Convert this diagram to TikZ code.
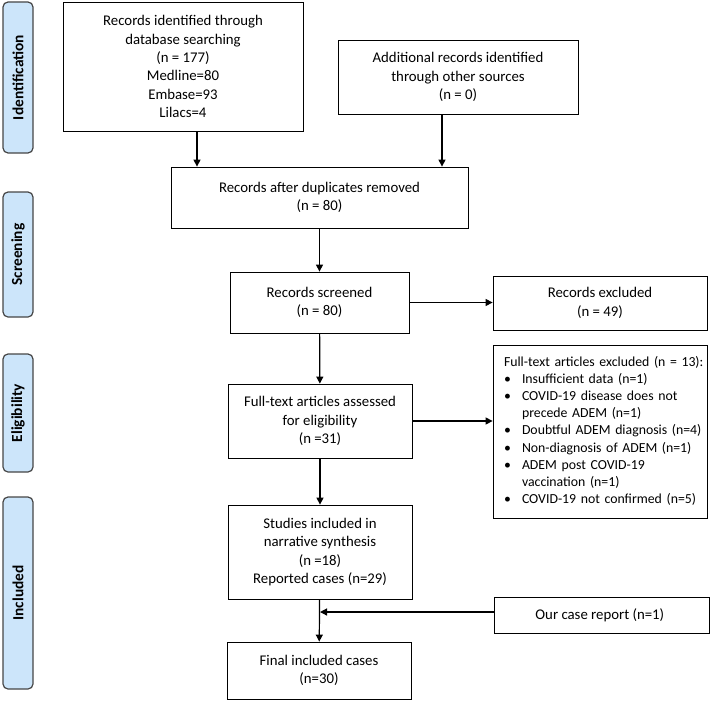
\documentclass[tikz,border=0pt]{standalone}
\usepackage{fontspec}
\setmainfont{Carlito}
\usepackage{tikz}
\usetikzlibrary{calc, positioning, arrows.meta}
\definecolor{sidefill}{RGB}{204,229,250}
\definecolor{sidedraw}{RGB}{70,70,70}

\begin{document}
\begin{tikzpicture}[x=1pt, y=-1pt,
        box/.style={draw, line width=0.8pt, align=center, inner sep=0pt,
            font=\fontsize{14.8}{18.3}\selectfont},
        sidebar/.style={draw=sidedraw, fill=sidefill, line width=1.2pt,
            rounded corners=5pt, rotate=90, minimum height=30pt, inner sep=0pt,
            font=\bfseries\fontsize{15.4}{18}\selectfont},
        flow/.style={line width=1.2pt, -{Triangle[length=7pt, width=7pt]}}]
    \useasboundingbox (0,0) rectangle (711,701);

    % phases on the left
    \node[sidebar, minimum width=151pt] (sideid) at (18,77.5) {Identification};
    \node[sidebar, minimum width=125pt] (sidescr) at (18,254.5) {Screening};
    \node[sidebar, minimum width=118pt] (sideel) at (18,413) {Eligibility};
    \node[sidebar, minimum width=192pt] (sideinc) at (18,593) {Included};

    % main column
    \node[box, minimum width=240pt, minimum height=129pt] (ident) at (183,66.5) {
        Records identified through\\
        database searching\\
        (n = 177)\\
        Medline=80\\
        Embase=93\\
        Lilacs=4
    };
    \node[box, minimum width=240pt, minimum height=74pt] (other) at (458,77) {
        Additional records identified\\
        through other sources\\
        (n = 0)
    };
    \node[box, minimum width=297pt, minimum height=61pt] (dup) at (319.5,197.5) {
        Records after duplicates removed\\
        (n = 80)
    };
    \node[box, minimum width=179pt, minimum height=61pt] (screen) at (319.5,302.5) {
        Records screened\\
        (n = 80)
    };
    \node[box, minimum width=184pt, minimum height=74pt] (full) at (320,421) {
        Full-text articles assessed\\
        for eligibility\\
        (n =31)
    };
    \node[box, minimum width=184pt, minimum height=94pt] (incl) at (320,552) {
        Studies included in\\
        narrative synthesis\\
        (n =18)\\
        Reported cases (n=29)
    };
    \node[box, minimum width=184pt, minimum height=57pt] (final) at (319,670.5) {
        Final included cases\\
        (n=30)
    };

    % right column
    \node[box, minimum width=214pt, minimum height=54pt] (excl) at (600,303) {
        Records excluded\\
        (n = 49)
    };
    \node[box, minimum width=214pt, minimum height=173pt, text width=192pt, align=left,
        font=\fontsize{13.8}{17.2}\selectfont] (ftex) at (600,431.5) {%
        \begin{tabular}{@{}p{18pt}@{}l@{}}
            \multicolumn{2}{@{}l@{}}{Full-text articles excluded (n = 13):}\\
            \textbullet & Insufficient data (n=1)\\
            \textbullet & COVID-19 disease does not\\
             & precede ADEM (n=1)\\
            \textbullet & Doubtful ADEM diagnosis (n=4)\\
            \textbullet & Non-diagnosis of ADEM (n=1)\\
            \textbullet & ADEM post COVID-19\\
             & vaccination (n=1)\\
            \textbullet & COVID-19 not confirmed (n=5)
        \end{tabular}};
    \node[box, minimum width=215pt, minimum height=36pt] (case) at (601.5,615) {
        Our case report (n=1)
    };

    % arrows
    \coordinate (idfoot) at ([xshift=14pt]ident.south);
    \coordinate (otfoot) at ([xshift=-16pt]other.south);
    \coordinate (casein) at ([yshift=3pt]case.west);

    \draw[flow] (idfoot) -- (idfoot |- dup.north);
    \draw[flow] (otfoot) -- (otfoot |- dup.north);
    \draw[flow] (dup) -- (screen);
    \draw[flow] (screen) -- (full);
    \draw[flow] (full) -- (incl);
    \draw[flow] (incl) -- (final);
    \draw[flow] (screen.east) -- (excl.west |- screen.east);
    \draw[flow] (full.east) -- (ftex.west |- full.east);
    \draw[flow] (casein) -- (casein -| incl.south);
\end{tikzpicture}
\end{document}
